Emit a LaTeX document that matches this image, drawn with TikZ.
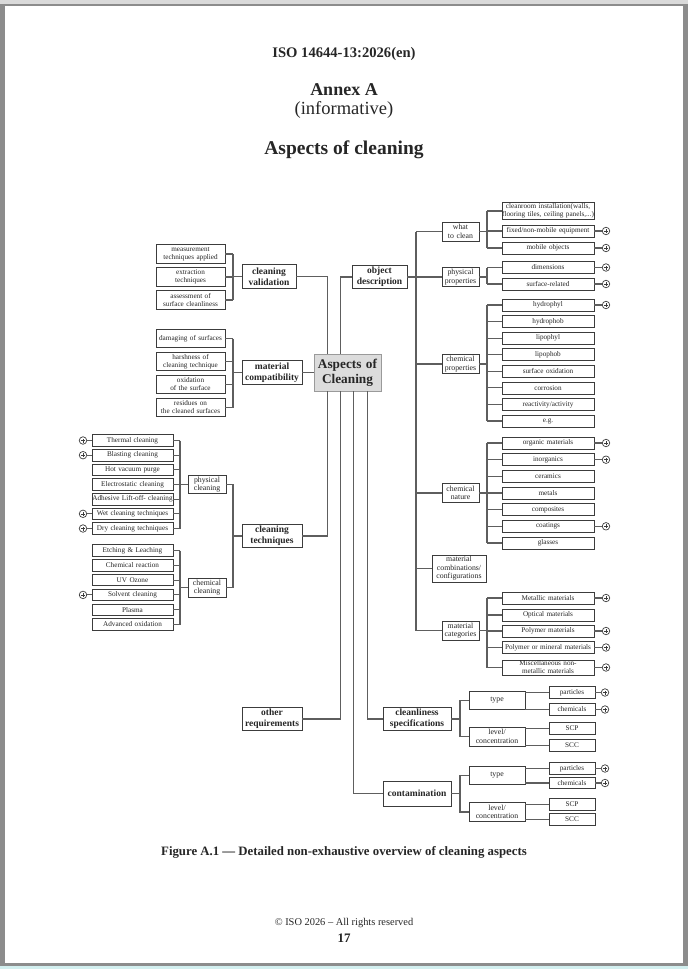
\documentclass[tikz,border=0pt]{standalone}
\usepackage{fontspec}
\setmainfont{Liberation Serif}
\usetikzlibrary{positioning,calc}
\definecolor{isoLine}{HTML}{5E5E5E}
\definecolor{isoEdge}{HTML}{3C3C3C}
\definecolor{isoText}{HTML}{262626}
\definecolor{isoHubFill}{HTML}{DCDCDC}
\definecolor{isoHubEdge}{HTML}{9A9A9A}
\definecolor{isoFrame}{HTML}{8C8C8C}
\definecolor{isoFrameTop}{HTML}{DADADA}
\definecolor{isoFoot}{HTML}{D2EFEF}

\tikzset{
  conn/.style={isoLine, line width=1.1pt},
  basebox/.style={draw=isoEdge, line width=0.8pt, fill=white, inner xsep=0pt,
    inner ysep=1pt, align=center, text=isoText},
  leafbox/.style={basebox, font=\fontsize{7.2}{8}\selectfont, text width=#1,
    minimum height=12pt},
  leafbox/.default=92pt,
  subbox/.style={basebox, font=\fontsize{7.8}{8.6}\selectfont, text width=#1,
    minimum height=19pt},
  subbox/.default=37pt,
  mainbox/.style={basebox, font=\fontsize{9.5}{11}\selectfont\bfseries,
    text width=#1, minimum height=23.5pt},
  hubbox/.style={basebox, draw=isoHubEdge, fill=isoHubFill,
    font=\fontsize{13.3}{15}\selectfont\bfseries, text width=67pt,
    minimum height=37pt},
  expander/.style={circle, draw=isoEdge, line width=0.7pt, fill=white,
    minimum size=7.5pt, inner sep=0pt,
    path picture={\draw[isoEdge, line width=0.5pt]
      ([xshift=-2pt]path picture bounding box.center) --
      ([xshift=2pt]path picture bounding box.center)
      ([yshift=-2pt]path picture bounding box.center) --
      ([yshift=2pt]path picture bounding box.center);}},
  heading/.style={text=isoText, inner sep=0pt},
}

\begin{document}
\begin{tikzpicture}[x=1pt, y=-1pt]

% --- PAGE ---
\useasboundingbox (0,0) rectangle (688,969);
\fill[isoFrame] (0,0) rectangle (688,969);
\fill[isoFrameTop] (0,0) rectangle (688,3.5);
\fill[white] (5,6) rectangle (683,963);
\fill[isoFoot] (0,966) rectangle (688,969);

% --- HEADINGS ---
\node[heading, font=\fontsize{14.6}{16}\selectfont\bfseries]
  (stdref) at (344,54) {ISO 14644-13:2026(en)};
\node[heading, font=\fontsize{18}{20}\selectfont\bfseries]
  (annex) at (344,90) {Annex A};
\node[heading, font=\fontsize{18.5}{20}\selectfont]
  (informative) at (344,110) {(informative)};
\node[heading, font=\fontsize{19.5}{22}\selectfont\bfseries]
  (title) at (344,150) {Aspects of cleaning};

% --- HUB AND MAIN BRANCHES ---
\node[hubbox] (hub) at (347.5,372.5) {Aspects of\\Cleaning};
\node[mainbox=54pt] (valid) at (269,276.5) {cleaning\\validation};
\node[mainbox=60pt] (compat) at (272,372.5) {material\\compatibility};
\node[mainbox=60pt] (techn) at (272,536) {cleaning\\techniques};
\node[mainbox=60pt] (otherreq) at (272,719) {other\\requirements};
\node[mainbox=55pt] (objdesc) at (379.5,277) {object\\description};
\node[mainbox=68pt] (cleanspec) at (417,719) {cleanliness\\specifications};
\node[mainbox=68pt, minimum height=25pt] (contam) at (417,793.5) {contamination};

% stems on top and bottom of the hub
\foreach \dx [count=\i] in {14,27,40,54} {
  \coordinate (hubN\i) at ($(hub.north west)+(\dx,0)$);
  \coordinate (hubS\i) at ($(hub.south west)+(\dx,0)$);
}
\draw[conn] (valid.east) -| (hubN1);
\draw[conn] (objdesc.west) -| (hubN2);
\draw[conn] (compat.east) -- (hub.west);
\draw[conn] (techn.east) -| (hubS1);
\draw[conn] (otherreq.east) -| (hubS2);
\draw[conn] (contam.west) -| (hubS3);
\draw[conn] (cleanspec.west) -| (hubS4);

% --- CLEANING VALIDATION + MATERIAL COMPATIBILITY ---
\coordinate (sideBrk) at (233,0);
\foreach \yv/\txt [count=\i] in {254/{measurement\\techniques applied},
    277/{extraction\\techniques}, 300/{assessment of\\surface cleanliness},
    338.5/{damaging of surfaces}, 361.5/{harshness of\\cleaning technique},
    384.5/{oxidation\\of the surface}, 407.5/{residues on\\the cleaned surfaces}} {
  \node[leafbox=69pt, minimum height=18.5pt] (side\i) at (190.5,\yv) {\txt};
  \draw[conn] (side\i.east) -- (side\i.east -| sideBrk);
}
\draw[conn] (side1.east -| sideBrk) -- (side3.east -| sideBrk);
\draw[conn] (side4.east -| sideBrk) -- (side7.east -| sideBrk);
\draw[conn] (valid.west) -- (valid.west -| sideBrk);
\draw[conn] (compat.west) -- (compat.west -| sideBrk);

% --- CLEANING TECHNIQUES ---
\coordinate (techBrk) at (180,0);
\coordinate (technBrk) at (233,0);
\node[subbox=38pt, minimum height=17.5pt] (physcl) at (207,484.5) {physical\\cleaning};
\node[subbox=38pt] (chemcl) at (207,587.5) {chemical\\cleaning};
\foreach \yv/\txt/\mk [count=\i] in {440.5/Thermal cleaning/1,
    455.2/Blasting cleaning/1, 469.8/Hot vacuum purge/0,
    484.5/Electrostatic cleaning/0, 499.2/Adhesive Lift-off- cleaning/0,
    513.8/Wet cleaning techniques/1, 528.5/Dry cleaning techniques/1,
    550.5/Etching \& Leaching/0, 565.3/Chemical reaction/0,
    580.1/UV Ozone/0, 594.9/Solvent cleaning/1,
    609.7/Plasma/0, 624.5/Advanced oxidation/0} {
  \node[leafbox=81pt, minimum height=11.5pt] (tech\i) at (132.5,\yv) {\txt};
  \draw[conn] (tech\i.east) -- (tech\i.east -| techBrk);
  \ifnum\mk=1
    \node[expander] (techmark\i) at (83,\yv) {};
    \draw[conn] (techmark\i) -- (tech\i.west);
  \fi
}
\draw[conn] (tech1.east -| techBrk) -- (tech7.east -| techBrk);
\draw[conn] (tech8.east -| techBrk) -- (tech13.east -| techBrk);
\draw[conn] (physcl.west) -- (physcl.west -| techBrk);
\draw[conn] (chemcl.west) -- (chemcl.west -| techBrk);
\draw[conn] (physcl.east) -- (physcl.east -| technBrk)
  -- (chemcl.east -| technBrk) -- (chemcl.east);
\draw[conn] (techn.west) -- (techn.west -| technBrk);

% --- OBJECT DESCRIPTION ---
\coordinate (trunk) at (416,0);
\coordinate (objBrk) at (487,0);
\node[subbox] (whatcl) at (460.5,231.5) {what\\to clean};
\node[subbox] (physprop) at (460.5,277) {physical\\properties};
\node[subbox] (chemprop) at (460.5,364) {chemical\\properties};
\node[subbox] (chemnat) at (460.5,493) {chemical\\nature};
\node[subbox=54pt, minimum height=27pt] (matcomb) at (459,568.5)
  {material\\combinations/\\configurations};
\node[subbox] (matcat) at (460.5,630.5) {material\\categories};

\draw[conn] (objdesc.east) -- (physprop.west);
\draw[conn] (trunk |- whatcl.west) -- (trunk |- matcat.west);
\foreach \nd in {whatcl, chemprop, chemnat, matcomb, matcat}
  \draw[conn] (trunk |- \nd.west) -- (\nd.west);

\foreach \yv/\txt/\mk [count=\i] in {
    211/{cleanroom installation(walls,\\flooring tiles, ceiling panels,...)}/0,
    231/{fixed/non-mobile equipment}/1, 248/mobile objects/1,
    267.5/dimensions/1, 284/surface-related/1,
    305/hydrophyl/1, 321.6/hydrophob/0, 338.1/lipophyl/0, 354.7/lipophob/0,
    371.3/surface oxidation/0, 387.9/corrosion/0,
    404.4/{reactivity/activity}/0, 421/e.g./0,
    443/organic materials/1, 459.7/inorganics/1, 476.3/ceramics/0,
    493/metals/0, 509.7/composites/0, 526.3/coatings/1, 543/glasses/0,
    598/Metallic materials/1, 615/Optical materials/0,
    631/Polymer materials/1, 647.5/Polymer or mineral materials/1,
    667.5/{Miscellaneous non-\\metallic materials}/1} {
  \node[leafbox] (obj\i) at (548,\yv) {\txt};
  \draw[conn] (obj\i.west) -- (obj\i.west -| objBrk);
  \ifnum\mk=1
    \node[expander] (objmark\i) at (606,\yv) {};
    \draw[conn] (obj\i.east) -- (objmark\i);
  \fi
}
\foreach \nd/\first/\last in {whatcl/1/3, physprop/4/5, chemprop/6/13,
    chemnat/14/20, matcat/21/25} {
  \draw[conn] (objBrk |- obj\first.west) -- (objBrk |- obj\last.west);
  \draw[conn] (\nd.east) -- (\nd.east -| objBrk);
}

% --- CLEANLINESS SPECIFICATIONS + CONTAMINATION ---
\coordinate (specBrk) at (460,0);
\foreach \pre/\own/\yTy/\yLv/\yPa/\yCh/\yScp/\yScc in {
    cs/cleanspec/700.5/736.5/692.5/709.5/728.5/745.5,
    ct/contam/775.5/812/768.5/783/804.5/819.5} {
  \node[subbox=56pt, minimum height=17.5pt] (\pre type) at (497,\yTy) {type};
  \node[subbox=56pt] (\pre level) at (497,\yLv) {level/\\concentration};
  \node[leafbox=46pt, minimum height=11.5pt] (\pre part) at (572,\yPa) {particles};
  \node[leafbox=46pt, minimum height=11.5pt] (\pre chem) at (572,\yCh) {chemicals};
  \node[leafbox=46pt, minimum height=11.5pt] (\pre scp) at (572,\yScp) {SCP};
  \node[leafbox=46pt, minimum height=11.5pt] (\pre scc) at (572,\yScc) {SCC};
  \node[expander] (\pre partmark) at (605,\yPa) {};
  \node[expander] (\pre chemmark) at (605,\yCh) {};
  \draw[conn] (\own.east) -- (\own.east -| specBrk);
  \draw[conn] (\pre type.west) -| (specBrk |- \pre level.west) -- (\pre level.west);
  \draw[conn] (\pre type.east |- \pre part.west) -- (\pre part.west);
  \draw[conn] (\pre type.east |- \pre chem.west) -- (\pre chem.west);
  \draw[conn] (\pre level.east |- \pre scp.west) -- (\pre scp.west);
  \draw[conn] (\pre level.east |- \pre scc.west) -- (\pre scc.west);
  \draw[conn] (\pre part.east) -- (\pre partmark);
  \draw[conn] (\pre chem.east) -- (\pre chemmark);
}

% --- CAPTION + FOOTER ---
\node[heading, font=\fontsize{12.8}{15}\selectfont\bfseries] (caption) at (344,852)
  {Figure A.1 — Detailed non-exhaustive overview of cleaning aspects};
\node[heading, font=\fontsize{10.4}{12}\selectfont] (copyright) at (344,923)
  {© ISO 2026 – All rights reserved};
\node[heading, font=\fontsize{13}{15}\selectfont\bfseries] (pageno) at (344,938) {17};

\end{tikzpicture}
\end{document}
